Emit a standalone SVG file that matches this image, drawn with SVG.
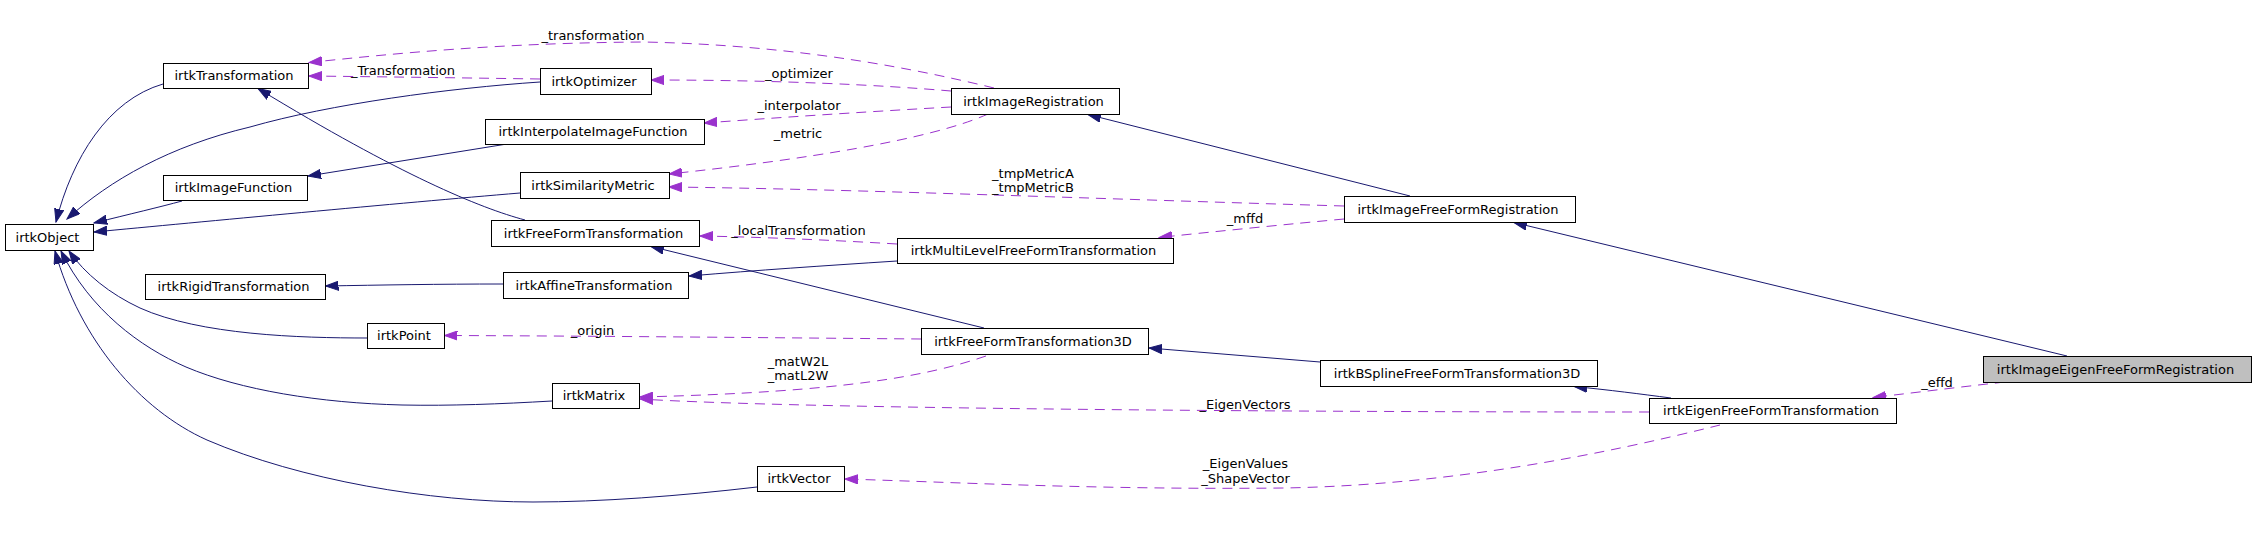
<svg xmlns="http://www.w3.org/2000/svg" width="2256" height="539" viewBox="0 0 2256 539">
<style>
.node rect{fill:#ffffff;stroke:#000000;stroke-width:1}
.node.hl rect{fill:#bfbfbf}
.node text,.lbl{font-family:"DejaVu Sans","Liberation Sans",sans-serif;font-size:13px;text-anchor:middle;fill:#000000}
.inh{fill:none;stroke:#191970;stroke-width:1;marker-end:url(#ahInh)}
.use{fill:none;stroke:#9a32cd;stroke-width:1;stroke-dasharray:10,7;marker-end:url(#ahUse)}
</style>
<defs>
<marker id="ahInh" markerUnits="userSpaceOnUse" viewBox="0 0 14 10" markerWidth="14" markerHeight="10" refX="13" refY="5" orient="auto">
<path d="M0,0.4 L13,5 L0,9.6 z" fill="#191970" stroke="#191970" stroke-width="1"/>
</marker>
<marker id="ahUse" markerUnits="userSpaceOnUse" viewBox="0 0 14 10" markerWidth="14" markerHeight="10" refX="13" refY="5" orient="auto">
<path d="M0,0.4 L13,5 L0,9.6 z" fill="#9a32cd" stroke="#9a32cd" stroke-width="1" stroke-dasharray="none"/>
</marker>
</defs>
<rect x="0" y="0" width="2256" height="539" fill="#ffffff"/>
<g id="connectors">
<path class="inh" d="M163,84 C108,100 72,158 56,222"/>
<path class="inh" d="M540,82 C450,88 330,104 250,127 C170,146 110,180 67,219"/>
<path class="inh" d="M182,201 C160,207 130,214 94,223"/>
<path class="inh" d="M520,193 C400,203 200,222 94,232"/>
<path class="inh" d="M507,144 L308,176"/>
<path class="inh" d="M525,220 C480,208 400,175 258,88.5"/>
<path class="inh" d="M503,284 C440,284 380,285 325.5,286"/>
<path class="inh" d="M897,261 C820,266 760,270 689,276"/>
<path class="inh" d="M984,328 L651,246.5"/>
<path class="inh" d="M1320,362 L1149,348"/>
<path class="inh" d="M1671,398 C1640,394 1610,390 1574,386.5"/>
<path class="inh" d="M2067,356 L1514,222.5"/>
<path class="inh" d="M1410,196 L1088,114.5"/>
<path class="inh" d="M367,338 C300,338 200,335 140,308 C110,294 85,274 69,251"/>
<path class="inh" d="M552,401 C500,404 450,406 402,405 C320,403 240,390 186,367 C140,347 90,310 61,251"/>
<path class="inh" d="M757,487 C680,496 600,502 533,502 C430,502 300,480 207,440 C140,410 80,340 55,251"/>
<path class="use" d="M994,88 C920,70 800,45 643,42 C500,43 400,53 309,62.5"/>
<path class="use" d="M540,79 C470,78 400,77 309,76"/>
<path class="use" d="M951,91 C880,85 780,80 651,80"/>
<path class="use" d="M951,107 C880,111 800,116 704,123"/>
<path class="use" d="M988,114 C930,140 800,160 669,174"/>
<path class="use" d="M1344,206 C1100,199 850,189 669,187"/>
<path class="use" d="M1344,219 C1290,224 1220,231 1159,237.5"/>
<path class="use" d="M897,244 C830,240 760,237 700,236"/>
<path class="use" d="M921,339 C800,338 600,336 444.5,335.5"/>
<path class="use" d="M986,356 C930,375 850,392 640,397"/>
<path class="use" d="M1649,412 C1300,412 800,409 640,399"/>
<path class="use" d="M1720,425 C1600,455 1450,485 1284,488 C1100,490 950,482 845,479"/>
<path class="use" d="M2005,382 C1960,387 1920,392 1873,397.5"/>
<text class="lbl" x="593" y="39.5">_transformation</text>
<text class="lbl" x="403" y="75">_Transformation</text>
<text class="lbl" x="799" y="77.5">_optimizer</text>
<text class="lbl" x="799" y="110">_interpolator</text>
<text class="lbl" x="798" y="138">_metric</text>
<text class="lbl" x="1033" y="177.5">_tmpMetricA</text>
<text class="lbl" x="1033" y="191.5">_tmpMetricB</text>
<text class="lbl" x="798.5" y="235">_localTransformation</text>
<text class="lbl" x="1245" y="222.5">_mffd</text>
<text class="lbl" x="592.5" y="334.5">_origin</text>
<text class="lbl" x="798" y="366">_matW2L</text>
<text class="lbl" x="798" y="380">_matL2W</text>
<text class="lbl" x="1245" y="409">_EigenVectors</text>
<text class="lbl" x="1245.5" y="467.5">_EigenValues</text>
<text class="lbl" x="1245.5" y="482.5">_ShapeVector</text>
<text class="lbl" x="1937" y="386.5">_effd</text>
</g>
<g id="irtkImageEigenFreeFormRegistration" class="node hl"><rect x="1983.5" y="356.5" width="268" height="26"/><text x="2115.5" y="373.5">irtkImageEigenFreeFormRegistration</text></g>
<g id="irtkEigenFreeFormTransformation" class="node"><rect x="1649.5" y="398.5" width="247" height="25"/><text x="1771" y="415">irtkEigenFreeFormTransformation</text></g>
<g id="irtkImageFreeFormRegistration" class="node"><rect x="1344.5" y="196.5" width="231" height="26"/><text x="1458" y="213.5">irtkImageFreeFormRegistration</text></g>
<g id="irtkImageRegistration" class="node"><rect x="951.5" y="88.5" width="168" height="26"/><text x="1033.5" y="105.5">irtkImageRegistration</text></g>
<g id="irtkOptimizer" class="node"><rect x="540.5" y="68.5" width="111" height="26"/><text x="594" y="85.5">irtkOptimizer</text></g>
<g id="irtkTransformation" class="node"><rect x="163.5" y="63.5" width="145" height="25"/><text x="234" y="80">irtkTransformation</text></g>
<g id="irtkObject" class="node"><rect x="5.5" y="224.5" width="88" height="26"/><text x="47.5" y="241.5">irtkObject</text></g>
<g id="irtkImageFunction" class="node"><rect x="163.5" y="175.5" width="144" height="25"/><text x="233.5" y="192">irtkImageFunction</text></g>
<g id="irtkInterpolateImageFunction" class="node"><rect x="485.5" y="119.5" width="219" height="25"/><text x="593" y="136">irtkInterpolateImageFunction</text></g>
<g id="irtkSimilarityMetric" class="node"><rect x="520.5" y="172.5" width="149" height="26"/><text x="593" y="189.5">irtkSimilarityMetric</text></g>
<g id="irtkFreeFormTransformation" class="node"><rect x="491.5" y="220.5" width="208" height="26"/><text x="593.5" y="237.5">irtkFreeFormTransformation</text></g>
<g id="irtkMultiLevelFreeFormTransformation" class="node"><rect x="897.5" y="238.5" width="276" height="25"/><text x="1033.5" y="255">irtkMultiLevelFreeFormTransformation</text></g>
<g id="irtkRigidTransformation" class="node"><rect x="145.5" y="274.5" width="180" height="25"/><text x="233.5" y="291">irtkRigidTransformation</text></g>
<g id="irtkAffineTransformation" class="node"><rect x="503.5" y="272.5" width="185" height="26"/><text x="594" y="289.5">irtkAffineTransformation</text></g>
<g id="irtkPoint" class="node"><rect x="367.5" y="323.5" width="77" height="25"/><text x="404" y="340">irtkPoint</text></g>
<g id="irtkFreeFormTransformation3D" class="node"><rect x="921.5" y="328.5" width="227" height="26"/><text x="1033" y="345.5">irtkFreeFormTransformation3D</text></g>
<g id="irtkMatrix" class="node"><rect x="552.5" y="383.5" width="87" height="25"/><text x="594" y="400">irtkMatrix</text></g>
<g id="irtkVector" class="node"><rect x="757.5" y="466.5" width="87" height="25"/><text x="799" y="483">irtkVector</text></g>
<g id="irtkBSplineFreeFormTransformation3D" class="node"><rect x="1320.5" y="360.5" width="277" height="26"/><text x="1457" y="377.5">irtkBSplineFreeFormTransformation3D</text></g>
</svg>
